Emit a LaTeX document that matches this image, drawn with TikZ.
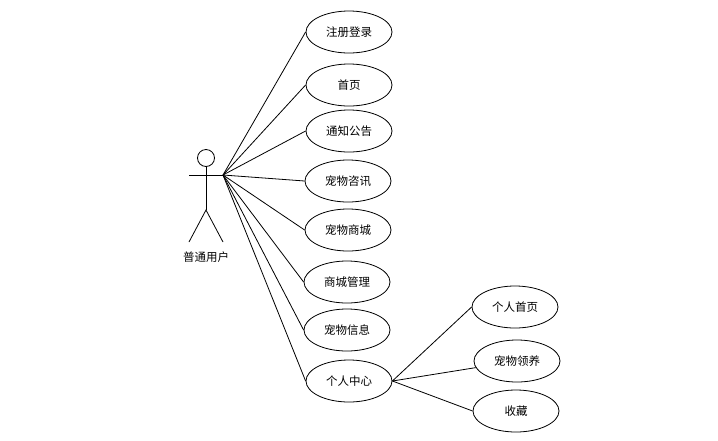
\documentclass[tikz,border=0pt]{standalone}
\usepackage{fontspec}
\usepackage{tikz}
\newfontfamily\cjk{Noto Sans CJK SC}
\usetikzlibrary{positioning,shapes.geometric}

\tikzset{
  usecase/.style={draw,ellipse,minimum width=86pt,minimum height=42pt,inner sep=0pt,font=\cjk\fontsize{11.5}{13}\selectfont},
  link/.style={draw,line width=0.8pt}
}

\begin{document}
\begin{tikzpicture}[x=1pt,y=-1pt,line width=0.8pt]
  \useasboundingbox (0,0) rectangle (718,440);
  % actor
  \draw (206,158) circle (8.5);
  \draw (206,166.5)--(206,210);
  \draw (189,242)--(206,210)--(223,242);
  \draw (189,175)--(223,175);
  \coordinate (hand) at (223,175);
  \node[font=\cjk\fontsize{11.5}{13}\selectfont] (user) at (206,257) {普通用户};
  % use cases
  \node[usecase] (reg)   at (349,32)  {注册登录};
  \node[usecase] (home)  at (349,85)  {首页};
  \node[usecase] (notice) at (349,131) {通知公告};
  \node[usecase] (news)  at (348,181) {宠物咨讯};
  \node[usecase] (shop)  at (348,230) {宠物商城};
  \node[usecase] (shopm) at (347,282) {商城管理};
  \node[usecase] (info)  at (347,330) {宠物信息};
  \node[usecase] (center) at (349,381) {个人中心};
  \node[usecase] (phome) at (515,307) {个人首页};
  \node[usecase] (adopt) at (517,361) {宠物领养};
  \node[usecase] (fav)   at (516,411) {收藏};
  \foreach \n in {reg,home,notice,news,shop,shopm,info,center}
    \draw (hand)--(\n.west);
  \draw (center.east)--(phome.west);
  \draw (center.east)--(adopt);
  \draw (center.east)--(fav.west);
\end{tikzpicture}
\end{document}
